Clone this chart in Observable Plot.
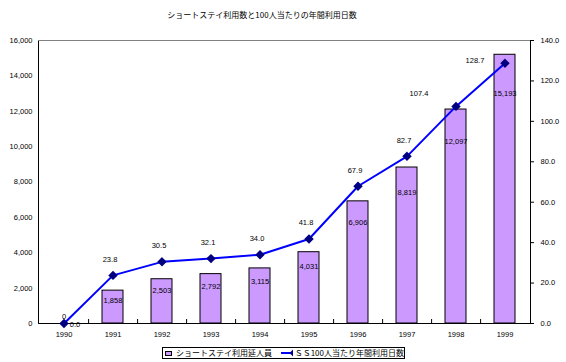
<!DOCTYPE html>
<html><head><meta charset="utf-8">
<script src="https://cdn.jsdelivr.net/npm/d3@7"></script>
<script src="https://cdn.jsdelivr.net/npm/@observablehq/plot@0.6"></script>
<style>
body{margin:0;background:#fff;font-family:"Noto Sans CJK JP",sans-serif;}
#wrap{width:566px;height:362px;position:relative;overflow:hidden;background:#fff;}
#title{position:absolute;left:0;top:8px;width:524px;text-align:center;font-size:8px;line-height:14px;color:#000;}
#chart{position:absolute;left:0;top:30px;}
#legend{position:absolute;left:162px;top:347px;width:241px;height:10px;border:1px solid #000;display:flex;align-items:center;font-size:8px;line-height:10px;white-space:nowrap;color:#000;}
.sw{display:inline-block;width:10px;height:3px;background:#CC99FF;border:1px solid #000;margin:0 4px 0 2px;}
</style></head><body>
<div id="wrap">
  <div id="title"></div>
  <div id="chart"></div>
  <div id="legend"></div>
</div>
<script>
const title = "ショートステイ利用数と100人当たりの年間利用日数";
const years = ["1990","1991","1992","1993","1994","1995","1996","1997","1998","1999"];
const users = [0, 1858, 2503, 2792, 3115, 4031, 6906, 8819, 12097, 15193];
const perHundred = [0.0, 23.8, 30.5, 32.1, 34.0, 41.8, 67.9, 82.7, 107.4, 128.7];
const leftTicks = [0, 2000, 4000, 6000, 8000, 10000, 12000, 14000, 16000];
const rightTicks = [0, 20, 40, 60, 80, 100, 120, 140];
const seriesNames = ["ショートステイ利用延人員", "ＳＳ100人当たり年間利用日数"];

const leftMax = 16000, rightMax = 140;
const k = leftMax / rightMax;
const data = years.map((y, i) => ({year: y, users: users[i], rate: perHundred[i], rateScaled: perHundred[i] * k, i}));

document.getElementById("title").textContent = title;

const width = 566, height = 312, mL = 38, mR = 36;
const step = (width - mL - mR) / years.length;
const font = "'Liberation Sans', Arial, sans-serif";
const fmt = d3.format(",");

const chart = Plot.plot({
  width, height,
  marginTop: 10, marginBottom: 19, marginLeft: mL, marginRight: mR,
  style: {fontFamily: font, fontSize: "7.5px", background: "white", color: "black", overflow: "visible"},
  x: {type: "band", domain: years, paddingInner: 0.57, paddingOuter: 0.285, align: 0.5, label: null},
  y: {domain: [0, leftMax], label: null},
  marks: [
    Plot.barY(data, {x: "year", y: "users", fill: "#CC99FF", stroke: "black", strokeWidth: 1}),
    Plot.frame({stroke: "black"}),
    Plot.ruleY([leftMax], {stroke: "#808080"}),
    Plot.ruleX(years.slice(0, -1), {x: d => d, dx: step / 2, y1: 0, y2: 4 * leftMax / 283, stroke: "black"}),
    Plot.axisY(leftTicks, {anchor: "left", tickSize: 0, tickPadding: 6, label: null, tickFormat: d => fmt(d)}),
    Plot.axisY(rightTicks.map(v => v * k), {anchor: "right", tickSize: 3, tickPadding: 7, label: null, tickFormat: d => (d / k).toFixed(1)}),
    Plot.axisX({anchor: "bottom", tickSize: 0, tickPadding: 8, label: null}),
    Plot.line(data, {x: "year", y: "rateScaled", stroke: "#0000FF", strokeWidth: 2}),
    Plot.dot(data, {x: "year", y: "rateScaled", symbol: "diamond2", r: 3.3, fill: "#000080", stroke: "#000080"}),
    // bar value labels
    Plot.text(data.filter(d => d.users > 0), {x: "year", y: d => d.users * 0.88 - 350, text: d => fmt(d.users), fill: "black"}),
    Plot.text(data.filter(d => d.users === 0), {x: "year", y: "users", dy: -7, text: d => fmt(d.users), fill: "black"}),
    // line value labels
    Plot.text(data.filter(d => d.i === 0), {x: "year", y: "rateScaled", dx: 11, dy: 1, text: d => d.rate.toFixed(1), fill: "black"}),
    Plot.text(data.filter(d => d.i >= 1 && d.i <= 7), {x: "year", y: "rateScaled", dx: -3, dy: -16, text: d => d.rate.toFixed(1), fill: "black"}),
    Plot.text(data.filter(d => d.i === 8), {x: "year", y: "rateScaled", dx: -37, dy: -13, text: d => d.rate.toFixed(1), fill: "black"}),
    Plot.text(data.filter(d => d.i === 9), {x: "year", y: "rateScaled", dx: -30, dy: -3, text: d => d.rate.toFixed(1), fill: "black"})
  ]
});
document.getElementById("chart").appendChild(chart);

const legend = document.getElementById("legend");
legend.innerHTML =
  '<span class="sw"></span><span>' + seriesNames[0] + '</span>' +
  '<svg width="26" height="8" style="margin:0 2px 0 8px"><line x1="1" y1="4" x2="25" y2="4" stroke="#0000FF" stroke-width="2"/>' +
  '<path d="M13,0.5 L16.5,4 L13,7.5 L9.5,4 Z" fill="#000080"/></svg><span>' + seriesNames[1] + '</span>';
</script>
</body></html>
